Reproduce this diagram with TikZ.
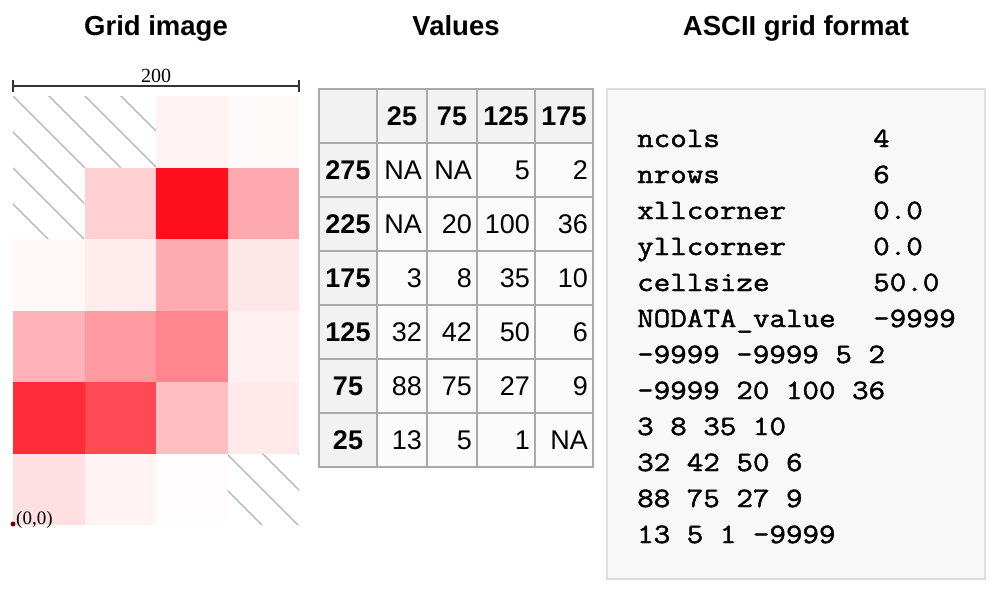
\documentclass[tikz,border=0pt]{standalone}
\usepackage{fontspec}
\setmainfont{Liberation Sans}
\newfontfamily\seriffont{Liberation Serif}
\newfontfamily\monofont[FakeStretch=1.147,FakeBold=1.6]{Latin Modern Mono}
\definecolor{mred}{RGB}{255,14,30}
\definecolor{hatchgray}{RGB}{178,178,178}
\definecolor{tborder}{RGB}{170,170,170}
\definecolor{thead}{RGB}{242,242,242}
\definecolor{tdata}{RGB}{251,251,251}
\definecolor{boxfill}{RGB}{248,248,248}
\definecolor{boxline}{RGB}{221,221,221}
\definecolor{dotred}{RGB}{120,0,0}
\tikzset{
  title/.style={font=\fontsize{27.5}{33}\selectfont\bfseries, anchor=base, inner sep=0},
  hcell/.style={draw=tborder, line width=2pt, fill=thead, minimum width=#1, minimum height=54pt, inner sep=0},
  dcell/.style={draw=tborder, line width=2pt, fill=tdata, minimum width=#1, minimum height=54pt, inner sep=0},
  htext/.style={font=\fontsize{27}{32}\selectfont\bfseries, inner sep=0},
  dtext/.style={font=\fontsize{27}{32}\selectfont, inner sep=0, anchor=east},
  mono/.style={font=\fontsize{28}{34}\selectfont\monofont, anchor=base west, inner sep=0},
  hatch/.style={draw=hatchgray, line width=1.2pt},
}
\begin{document}
\begin{tikzpicture}[x=1pt,y=-1pt]
\useasboundingbox (0,0) rectangle (1000,594);
% titles
\node[title] (t1) at (156,36) {Grid image};
\node[title] (t2) at (456,36) {Values};
\node[title] (t3) at (796,36) {ASCII grid format};

% ---------- grid image ----------
\def\cw{71.5}
\def\ch{71.5}
\foreach \r/\vals in {0/{-1,-1,5,2},1/{-1,20,100,36},2/{3,8,35,10},3/{32,42,50,6},4/{88,75,27,9},5/{13,5,1,-1}}{
  \foreach \v [count=\c from 0] in \vals {
    \ifnum\v>-1
      \fill[mred!\v!white] ({13+\c*\cw},{96+\r*\ch}) rectangle ++(\cw,\ch);
    \fi
  }
}
% hatching of NA cells
\begin{scope}
  \clip (13,96) rectangle (156,167.5)
        (13,167.5) rectangle (84.5,239)
        (227.5,453.5) rectangle (299,525);
  \foreach \k in {-16,...,6}{
    \draw[hatch] ({13+36*\k-500},{96-500}) -- ++(1000,1000);
  }
\end{scope}
% scale bar
\coordinate (sbL) at (13,86);
\coordinate (sbR) at (299,86);
\draw[line width=1.5pt, black!80] (sbL) -- (sbR);
\draw[line width=1.5pt, black!80] ([yshift=6]sbL) -- ([yshift=-6]sbL);
\draw[line width=1.5pt, black!80] ([yshift=6]sbR) -- ([yshift=-6]sbR);
\node[font=\fontsize{20}{24}\selectfont\seriffont, anchor=base, inner sep=0] (sblab) at (156,82) {200};
% origin
\fill[dotred] (13,524) circle (2.5);
\node[font=\fontsize{19}{23}\selectfont\seriffont, anchor=base west, inner sep=0] (orig) at (16,524) {(0,0)};

% ---------- table ----------
% column edges 319,377,427,477,535,593 ; row edges 89 + 54 i
\node[hcell=58pt] (h00) at (348,116) {};
\foreach \lab [count=\c from 1] in {25,75,125,175}{
  \pgfmathsetmacro{\xl}{{319,377,427,477,535,593}[\c]}
  \pgfmathsetmacro{\xr}{{319,377,427,477,535,593}[\c+1]}
  \node[hcell={(\xr-\xl)*1pt}] (h0\c) at ({(\xl+\xr)/2},116) {};
  \node[htext] at (h0\c.center) {\lab};
}
\foreach \rlab/\vals [count=\r from 1] in {275/{NA,NA,5,2},225/{NA,20,100,36},175/{3,8,35,10},125/{32,42,50,6},75/{88,75,27,9},25/{13,5,1,NA}}{
  \node[hcell=58pt] (h\r0) at (348,{116+54*\r}) {};
  \node[htext] at (h\r0.center) {\rlab};
  \foreach \v [count=\c from 1] in \vals {
    \pgfmathsetmacro{\xl}{{319,377,427,477,535,593}[\c]}
    \pgfmathsetmacro{\xr}{{319,377,427,477,535,593}[\c+1]}
    \node[dcell={(\xr-\xl)*1pt}] (d\r\c) at ({(\xl+\xr)/2},{116+54*\r}) {};
    \node[dtext] at ([xshift=-6pt]d\r\c.east) {\v};
  }
}
% redraw outer border
\draw[tborder, line width=2pt] (319,89) rectangle (593,467);

% ---------- ASCII box ----------
\node[draw=boxline, fill=boxfill, line width=2pt, minimum width=378pt, minimum height=490pt, inner sep=0] (box) at (796,334) {};
\foreach \k/\v [count=\i from 0] in {ncols/4,nrows/6,xllcorner/0.0,yllcorner/0.0,cellsize/50.0,NODATA\_value/-9999}{
  \node[mono] (k\i) at (637,{147+36*\i}) {\k};
  \node[mono] (v\i) at (873,{147+36*\i}) {\v};
}
\foreach \line [count=\i from 6] in {{-9999 -9999 5 2},{-9999 20 100 36},{3 8 35 10},{32 42 50 6},{88 75 27 9},{13 5 1 -9999}}{
  \node[mono] (l\i) at (637,{147+36*\i}) {\line};
}
\end{tikzpicture}
\end{document}
